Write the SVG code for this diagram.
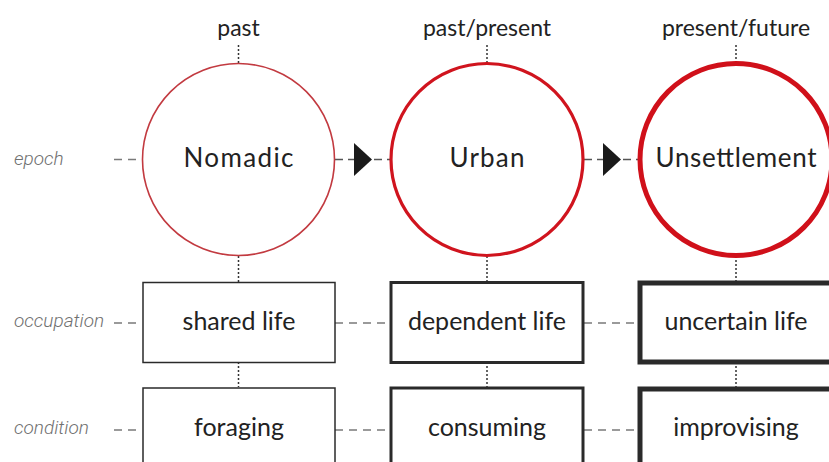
<svg xmlns="http://www.w3.org/2000/svg" width="829" height="462" viewBox="0 0 829 462">
  <style>
    .bg { fill: #ffffff; }
    .main { font-family: Lato, "Open Sans", sans-serif; font-size: 25px; fill: #222222; text-anchor: middle; }
    .epoch { font-size: 26px; }
    .time { font-family: Lato, "Open Sans", sans-serif; font-size: 23px; fill: #222222; text-anchor: middle; }
    .axis { font-family: Roboto, "Liberation Sans", sans-serif; font-style: italic; font-weight: 300; font-size: 19px; fill: #707070; }
    .dot { stroke: #333333; stroke-width: 1.5; stroke-dasharray: 2 2; fill: none; }
    .dash { stroke: #7a7a7a; stroke-width: 1.5; stroke-dasharray: 8 6; fill: none; }
    .link { stroke: #555555; stroke-width: 1.3; stroke-dasharray: 8 5; fill: none; }
    .box { fill: #ffffff; stroke: #2a2a2a; }
    .ring { fill: #ffffff; }
  </style>
  <rect class="bg" x="0" y="0" width="829" height="462"/>

  <!-- row labels -->
  <g id="axis-labels">
    <text class="axis" x="14" y="165">epoch</text>
    <text class="axis" x="14" y="327">occupation</text>
    <text class="axis" x="14" y="434">condition</text>
  </g>

  <!-- column headings -->
  <g id="time-labels">
    <text class="time" x="238.5" y="36">past</text>
    <text class="time" x="487" y="36">past/present</text>
    <text class="time" x="736" y="36">present/future</text>
  </g>

  <!-- connectors -->
  <g id="connectors">
    <!-- left leaders -->
    <line class="dash" x1="114" y1="159.5" x2="142" y2="159.5" stroke-dasharray="7 6"/>
    <line class="dash" x1="114" y1="323" x2="142" y2="323" stroke-dasharray="7 6"/>
    <line class="dash" x1="114" y1="430" x2="142" y2="430" stroke-dasharray="7 6"/>

    <!-- vertical dotted links -->
    <line class="dot" x1="238.5" y1="45" x2="238.5" y2="63"/>
    <line class="dot" x1="238.5" y1="256" x2="238.5" y2="282"/>
    <line class="dot" x1="238.5" y1="362" x2="238.5" y2="387"/>
    <line class="dot" x1="487" y1="45" x2="487" y2="63"/>
    <line class="dot" x1="487" y1="256" x2="487" y2="282"/>
    <line class="dot" x1="487" y1="362" x2="487" y2="387"/>
    <line class="dot" x1="736" y1="45" x2="736" y2="63"/>
    <line class="dot" x1="736" y1="256" x2="736" y2="282"/>
    <line class="dot" x1="736" y1="362" x2="736" y2="387"/>

    <!-- epoch transitions -->
    <line class="link" x1="335" y1="159.5" x2="390" y2="159.5"/>
    <polygon points="354,143 372,159.5 354,176" fill="#1a1a1a"/>
    <line class="link" x1="584" y1="159.5" x2="639" y2="159.5"/>
    <polygon points="603,143 621,159.5 603,176" fill="#1a1a1a"/>

    <!-- box row links -->
    <line class="dash" x1="335" y1="323" x2="390" y2="323" stroke-dasharray="9 6"/>
    <line class="dash" x1="584" y1="323" x2="639" y2="323" stroke-dasharray="9 6"/>
    <line class="dash" x1="335" y1="430" x2="390" y2="430" stroke-dasharray="9 6"/>
    <line class="dash" x1="584" y1="430" x2="639" y2="430" stroke-dasharray="9 6"/>
  </g>

  <!-- epochs -->
  <g id="nomadic">
    <circle class="ring" cx="238.5" cy="159.5" r="96" stroke="#c23a40" stroke-width="1.6"/>
    <text class="main epoch" x="238.5" y="167" textLength="110" lengthAdjust="spacing">Nomadic</text>
  </g>
  <g id="urban">
    <circle class="ring" cx="487" cy="159.5" r="96" stroke="#d0141e" stroke-width="3.2"/>
    <text class="main epoch" x="487" y="167" textLength="75" lengthAdjust="spacing">Urban</text>
  </g>
  <g id="unsettlement">
    <circle class="ring" cx="736" cy="159.5" r="96" stroke="#d0101a" stroke-width="5"/>
    <text class="main epoch" x="736" y="167" textLength="161" lengthAdjust="spacing">Unsettlement</text>
  </g>

  <!-- occupations -->
  <g id="shared-life">
    <rect class="box" x="143" y="282.5" width="192" height="80" stroke-width="1.5" stroke="#444444"/>
    <text class="main" x="239" y="330">shared life</text>
  </g>
  <g id="dependent-life">
    <rect class="box" x="391" y="282.5" width="192" height="80" stroke-width="3"/>
    <text class="main" x="487" y="330">dependent life</text>
  </g>
  <g id="uncertain-life">
    <rect class="box" x="640" y="283" width="192" height="79" stroke-width="5"/>
    <text class="main" x="736" y="330">uncertain life</text>
  </g>

  <!-- conditions -->
  <g id="foraging">
    <rect class="box" x="143" y="388" width="192" height="80" stroke-width="1.5" stroke="#444444"/>
    <text class="main" x="239" y="436">foraging</text>
  </g>
  <g id="consuming">
    <rect class="box" x="391" y="388" width="192" height="80" stroke-width="3"/>
    <text class="main" x="487" y="436">consuming</text>
  </g>
  <g id="improvising">
    <rect class="box" x="640" y="389" width="192" height="80" stroke-width="5"/>
    <text class="main" x="736" y="436">improvising</text>
  </g>
</svg>
